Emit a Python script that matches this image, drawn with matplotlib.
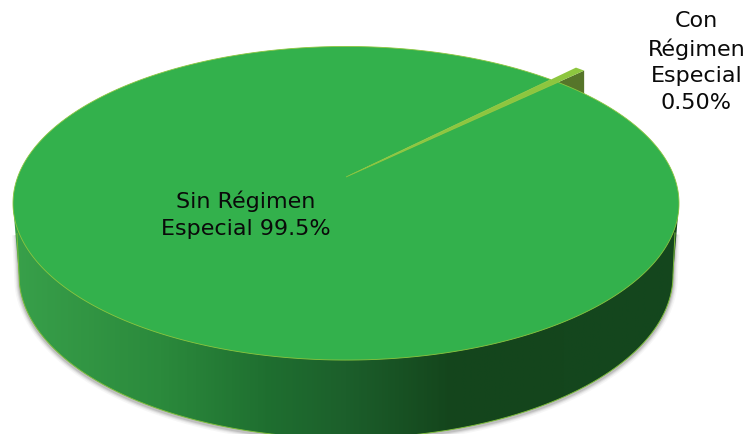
import numpy as np
import matplotlib
matplotlib.use("Agg")
from matplotlib import pyplot as plt
from matplotlib.colors import LinearSegmentedColormap
from matplotlib.patches import Polygon

labels = ["Sin Régimen\nEspecial 99.5%", "Con\nRégimen\nEspecial\n0.50%"]
shares = [99.5, 0.5]

# disc seen in perspective: apex of the slices in pixels, radii, tilt
cx, cy = 346.0, 177.0
rx, ry, tilt = 328.3, 152.4, 0.1675
drop, shrink, stretch = 72.0, 0.982, 1.04
small_mid = 44.8
small_reach = 1.14


def rim(a0, a1, r=1.0, n=400):
    t = np.radians(np.linspace(a0, a1, n))
    u, v = r * np.cos(t), r * np.sin(t)
    w = 1 + tilt * v
    return cx + rx * u / w, cy - ry * v / w


span = shares[1] / sum(shares) * 360
s0, s1 = small_mid - span / 2, small_mid + span / 2

fig = plt.figure(figsize=(7.48, 4.34), dpi=100)
ax = fig.add_axes([0, 0, 1, 1])
ax.set_xlim(0, 748)
ax.set_ylim(434, 0)
ax.axis("off")

# outline of the whole disc, and the lower rim
xt, yt = rim(0, 360, n=720)
mid_y = (yt.min() + yt.max()) / 2
xl = cx + (xt - cx) * shrink
yl = mid_y + (yt - mid_y) * stretch + drop

# side wall silhouette: from widest left of the top to widest right, through lower rim
il, ir = np.argmin(xl), np.argmax(xl)
idx = np.arange(il, ir + 720 + 1) % 720
idx = idx[:(ir - il) % 720 + 1]
lower = np.column_stack([xl[idx], yl[idx]])
left_top = [xt[np.argmin(xt)], yt[np.argmin(xt)]]
right_top = [xt[np.argmax(xt)], yt[np.argmax(xt)]]
wall = np.vstack([left_top, lower, right_top])

# soft shadow round the wall, it starts below the top rim
edge = np.vstack([[left_top[0] + 4, left_top[1] + 30], lower, [right_top[0] - 4, right_top[1] + 30]])
for lw, al in [(7, 0.05), (5, 0.08), (3.5, 0.12), (2, 0.18)]:
    ax.plot(edge[:, 0], edge[:, 1] + 1.5, color="#555555", lw=lw, alpha=al, zorder=1,
            solid_capstyle="butt")

# inner face of the small slice, mostly hidden by the big one
xa, ya = rim(s0, s1, small_reach, 30)
face = [(cx, cy), (xa[0], ya[0]), (xa[0], ya[0] + drop), (cx, cy + drop)]
ax.add_patch(Polygon(face, fc="#56752a", ec="none", zorder=2))

stops = [(0.0, "#38a04a"), (0.22, "#2b8a3c"), (0.38, "#1f6f30"), (0.50, "#1c5f2b"),
         (0.66, "#14451c"), (1.0, "#14471e")]
cmap = LinearSegmentedColormap.from_list("wall", stops)
im = ax.imshow(np.linspace(0, 1, 700)[None, :], cmap=cmap, extent=(13, 679, 440, 180),
               aspect="auto", zorder=3)
clip = Polygon(wall, transform=ax.transData, fc="none", ec="none")
ax.add_patch(clip)
im.set_clip_path(clip)
ax.set_xlim(0, 748)
ax.set_ylim(434, 0)
ax.plot(edge[:, 0], edge[:, 1], color="#7dbb3c", lw=0.7, zorder=4)

# top of the big slice
xb, yb = rim(s1, s0 + 360, n=720)
big = np.column_stack([np.r_[cx, xb], np.r_[cy, yb]])
ax.add_patch(Polygon(big, fc="#33b14c", ec="#8cc63f", lw=0.6, zorder=5))

# top of the small slice
small = np.column_stack([np.r_[cx, xa], np.r_[cy, ya]])
ax.add_patch(Polygon(small, fc="#8dc63f", ec="none", zorder=6))

ax.text(245.5, 215, labels[0], ha="center", va="center", fontsize=16, linespacing=1.42,
        color="#0a0a0a", zorder=7)
ax.text(696.5, 62, labels[1], ha="center", va="center", fontsize=16, linespacing=1.42,
        color="#0a0a0a", zorder=7)

fig.savefig("out.png", dpi=100)
